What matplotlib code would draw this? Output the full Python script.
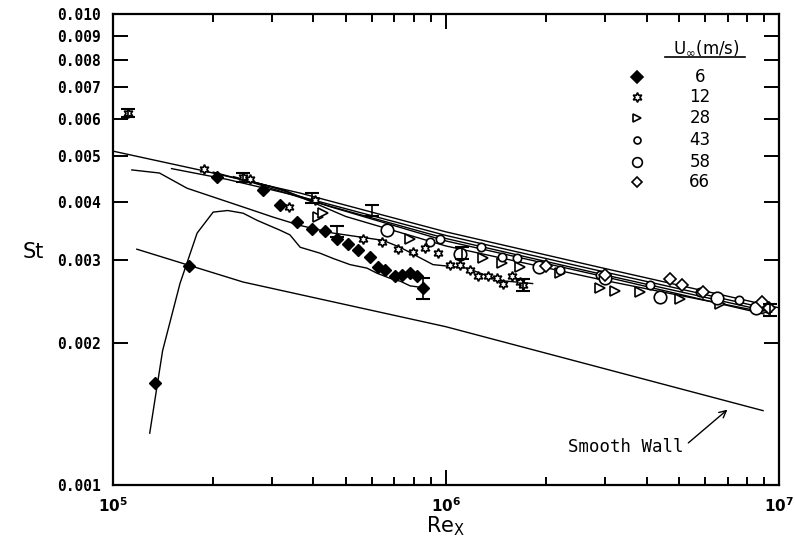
import matplotlib
matplotlib.use("Agg")
import matplotlib.pyplot as plt
from matplotlib.ticker import FixedLocator, NullLocator, FixedFormatter
import numpy as np

# --- prediction curves ---
top_re = [1.0e5, 1.82e5, 3.65e5, 1.0e6, 2.9e6, 1.0e7]
top_st = [0.00512, 0.00467, 0.00417, 0.00345, 0.00290, 0.00238]

bundle_re = [
    [1.5e5, 2.2e5, 3.65e5, 1.0e6, 2.9e6, 9.5e6],
    [2.0e5, 2.6e5, 4.0e5, 1.0e6, 2.9e6, 9.5e6],
    [2.3e5, 3.0e5, 4.5e5, 1.0e6, 3.0e6, 9.0e6],
    [2.5e5, 3.3e5, 5.0e5, 1.0e6, 3.0e6, 9.3e6],
]
bundle_st = [
    [0.00470, 0.00446, 0.00410, 0.00339, 0.00285, 0.00236],
    [0.00462, 0.00440, 0.00400, 0.00334, 0.00281, 0.00233],
    [0.00452, 0.00430, 0.00390, 0.00330, 0.00277, 0.00231],
    [0.00445, 0.00422, 0.00372, 0.00322, 0.00272, 0.00232],
]

mid_re = [1.14e5, 1.38e5, 1.67e5, 2.53e5, 3.02e5, 3.65e5, 4.58e5, 6.47e5,
          7.28e5, 9.14e5, 1.156e6, 1.45e6, 1.82e6]
mid_st = [0.00467, 0.00460, 0.00427, 0.00387, 0.00371, 0.00356, 0.00343,
          0.00331, 0.00320, 0.00294, 0.00289, 0.00272, 0.00268]

trans_re = [1.29e5, 1.41e5, 1.59e5, 1.79e5, 2.0e5, 2.21e5, 2.46e5, 2.71e5,
            3.17e5, 3.4e5, 3.65e5, 4.18e5, 4.58e5, 5.15e5, 5.79e5, 6.2e5,
            6.79e5, 7.3e5, 7.8e5, 8.77e5]
trans_st = [0.00129, 0.00193, 0.00268, 0.00343, 0.00380, 0.00383, 0.00378,
            0.00365, 0.00348, 0.00340, 0.00320, 0.00311, 0.00303, 0.00294,
            0.00289, 0.00282, 0.00275, 0.00271, 0.00265, 0.00262]

smooth_re = [1.18e5, 2.46e5, 1.0e6, 8.95e6]
smooth_st = [0.00317, 0.00270, 0.00217, 0.00144]

# --- measurements ---
u6_re = [1.34e5, 1.69e5, 2.05e5, 2.82e5, 3.17e5, 3.57e5, 3.96e5, 4.33e5, 4.71e5,
         5.08e5, 5.44e5, 5.91e5, 6.25e5, 6.56e5, 7.03e5, 7.38e5, 7.80e5, 8.18e5, 8.53e5]
u6_st = [0.00165, 0.00292, 0.00451, 0.00423, 0.00393, 0.00362, 0.00350, 0.00346,
         0.00334, 0.00325, 0.00315, 0.00305, 0.00290, 0.00287, 0.00278, 0.00279,
         0.00282, 0.00278, 0.00262]

u12_re = [1.11e5, 1.88e5, 2.46e5, 2.58e5, 3.38e5, 4.04e5, 5.63e5, 6.42e5, 7.18e5,
          7.96e5, 8.65e5, 9.46e5, 1.03e6, 1.10e6, 1.18e6, 1.25e6, 1.34e6, 1.42e6,
          1.48e6, 1.58e6, 1.67e6, 1.70e6]
u12_st = [0.00616, 0.00469, 0.00451, 0.00446, 0.00389, 0.00403, 0.00334, 0.00328,
          0.00317, 0.00312, 0.00319, 0.00311, 0.00293, 0.00293, 0.00286, 0.00278,
          0.00278, 0.00275, 0.00268, 0.00278, 0.00270, 0.00266]

u28_re = [4.13e5, 4.27e5, 7.8e5, 1.29e6, 1.47e6, 1.67e6, 2.2e6, 2.9e6, 3.22e6,
          3.83e6, 5.04e6, 6.65e6, 8.77e6]
u28_st = [0.00371, 0.00378, 0.00333, 0.00303, 0.00296, 0.00290, 0.00282, 0.00262,
          0.00259, 0.00257, 0.00249, 0.00242, 0.00238]

u43_re = [8.95e5, 9.6e5, 1.27e6, 1.47e6, 1.63e6, 2.2e6, 2.9e6, 4.1e6, 5.8e6, 7.6e6]
u43_st = [0.00328, 0.00333, 0.00320, 0.00305, 0.00303, 0.00286, 0.00279, 0.00266,
          0.00257, 0.00247]

u58_re = [6.65e5, 1.1e6, 1.9e6, 3.0e6, 4.39e6, 6.5e6, 8.5e6]
u58_st = [0.00348, 0.00310, 0.00290, 0.00275, 0.00251, 0.00250, 0.00238]

u66_re = [2.0e6, 3.0e6, 4.71e6, 5.11e6, 5.9e6, 8.9e6, 9.3e6]
u66_st = [0.00292, 0.00280, 0.00274, 0.00266, 0.00257, 0.00245, 0.00238]

err_re = [1.11e5, 2.46e5, 3.96e5, 4.71e5, 6.0e5, 8.53e5, 1.12e6, 1.70e6, 9.4e6]
err_st = [0.00616, 0.00451, 0.00408, 0.00346, 0.00383, 0.00262, 0.00311, 0.00266, 0.00236]
err_hi = [0.00012, 0.00010, 0.00010, 0.00009, 0.00010, 0.00014, 0.00009, 0.00008, 0.00007]

speeds = ['6', '12', '28', '43', '58', '66']

plt.rcParams['font.family'] = ['DejaVu Sans']
fig = plt.figure(figsize=(7.95, 5.44), dpi=100)
ax = fig.add_axes([0.142, 0.108, 0.838, 0.866])
ax.set_xscale('log')
ax.set_yscale('log')
ax.set_xlim(1e5, 1e7)
ax.set_ylim(0.001, 0.010)

lw = 1.0
ax.plot(top_re, top_st, 'k-', lw=lw)
for r, s in zip(bundle_re, bundle_st):
    ax.plot(r, s, 'k-', lw=lw)
ax.plot(mid_re, mid_st, 'k-', lw=lw)
ax.plot(trans_re, trans_st, 'k-', lw=lw)
ax.plot(smooth_re, smooth_st, 'k-', lw=lw)

ms = 6
star6 = (6, 1, 0)
ax.plot(u6_re, u6_st, 'D', color='k', ms=ms, ls='none')
ax.plot(u12_re, u12_st, marker=star6, mfc='white', mec='k', mew=1.2, ms=7, ls='none')
ax.plot(u28_re, u28_st, '>', mfc='white', mec='k', mew=1.2, ms=7, ls='none')
ax.plot(u43_re, u43_st, 'o', mfc='white', mec='k', mew=1.2, ms=6, ls='none')
ax.plot(u58_re, u58_st, 'o', mfc='white', mec='k', mew=1.2, ms=9, ls='none')
ax.plot(u66_re, u66_st, 'D', mfc='white', mec='k', mew=1.2, ms=6, ls='none')
ax.errorbar(err_re, err_st, yerr=err_hi, fmt='none', ecolor='k', elinewidth=1.2,
            capsize=5, capthick=1.5)

# axes styling
for sp in ax.spines.values():
    sp.set_linewidth(1.6)
ax.xaxis.set_major_locator(FixedLocator([1e5, 1e6, 1e7]))
ax.xaxis.set_major_formatter(FixedFormatter(['$\\mathbf{10^5}$', '$\\mathbf{10^6}$', '$\\mathbf{10^7}$']))
minors = [m * 10.0 ** e for e in (5, 6) for m in range(2, 10)]
ax.xaxis.set_minor_locator(FixedLocator(minors))
yt = [0.001 * k for k in range(1, 11)]
ax.yaxis.set_major_locator(FixedLocator(yt))
ax.yaxis.set_major_formatter(FixedFormatter(['%.3f' % v for v in yt]))
ax.yaxis.set_minor_locator(NullLocator())
ax.tick_params(which='both', direction='in', top=True, right=True, width=1.4)
ax.tick_params(which='major', length=11)
ax.tick_params(which='minor', length=6)
ax.tick_params(axis='y', pad=9)
ax.tick_params(axis='x', pad=8)
for lab in ax.get_yticklabels():
    lab.set_fontfamily('DejaVu Sans Mono')
    lab.set_fontweight('bold')
    lab.set_fontsize(10.5)
for lab in ax.get_xticklabels():
    lab.set_fontfamily('DejaVu Sans Mono')
    lab.set_fontsize(11)

ax.set_ylabel('St', rotation=0, fontsize=15)
ax.yaxis.set_label_coords(-0.12, 0.473)
ax.set_xlabel(r'$\mathregular{Re_X}$', fontsize=15)
ax.xaxis.set_label_coords(0.5, -0.062)

# legend drawn by hand
mk = [dict(marker='D', mfc='k', ms=6), dict(marker=star6, mfc='white', ms=7),
      dict(marker='>', mfc='white', ms=6), dict(marker='o', mfc='white', ms=5),
      dict(marker='o', mfc='white', ms=7), dict(marker='D', mfc='white', ms=5)]
ys = [0.866, 0.824, 0.779, 0.732, 0.686, 0.643]
for sp_, y, m in zip(speeds, ys, mk):
    ax.plot([0.787], [y], transform=ax.transAxes, mec='k', mew=1.2, ls='none', **m)
    ax.text(0.881, y, sp_, transform=ax.transAxes, ha='center', va='center',
            fontsize=12, family='DejaVu Sans')
ax.text(0.890, 0.930, r'$\mathregular{U_{\infty}}$(m/s)', transform=ax.transAxes,
        ha='center', va='center', fontsize=12)
ax.plot([0.829, 0.949], [0.909, 0.909], 'k-', lw=1.2, transform=ax.transAxes)

ax.annotate('Smooth Wall', xy=(7.1e6, 0.00146), xytext=(0.683, 0.081),
            textcoords='axes fraction', ha='left', va='center', fontsize=12.5,
            family='DejaVu Sans Mono',
            arrowprops=dict(arrowstyle='->', color='k', lw=1.0, relpos=(1.0, 0.5)))

fig.savefig('out.png', dpi=100)
